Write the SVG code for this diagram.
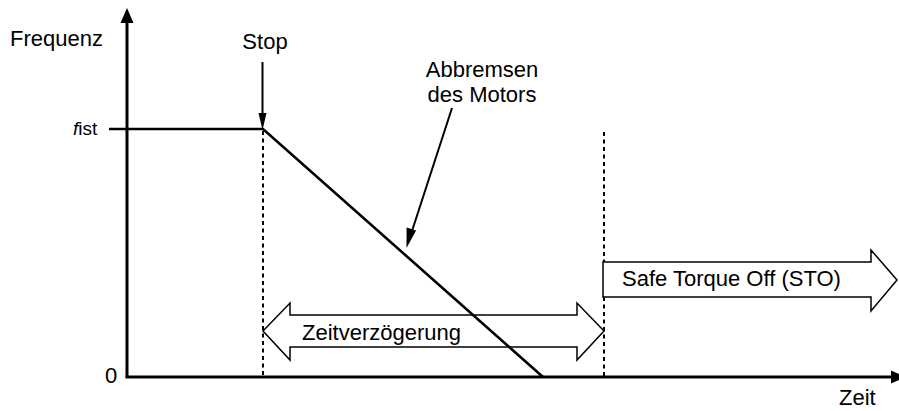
<svg xmlns="http://www.w3.org/2000/svg" width="899" height="411" viewBox="0 0 899 411">
<style>
text{font-family:"Liberation Sans",Arial,sans-serif;font-size:22px;fill:#000}
.ax{stroke:#000;stroke-width:3;fill:none}
.curve{stroke:#000;stroke-width:2.6;fill:none}
.dash{stroke:#000;stroke-width:2;stroke-dasharray:4 3.5;fill:none}
.ptr{stroke:#000;stroke-width:2;fill:none}
.big{stroke:#000;stroke-width:1.5;fill:#fff}
</style>
<rect width="899" height="411" fill="#fff"/>
<g id="axes">
<line class="ax" x1="127" y1="20" x2="127" y2="377"/>
<polygon points="127,8 120.5,23 133.5,23" fill="#000"/>
<line class="ax" x1="125.5" y1="377" x2="893" y2="377"/>
<polygon points="906,377 891,370.5 891,383.5" fill="#000"/>
<text id="y-label" x="10" y="46">Frequenz</text>
<text id="x-label" x="839" y="405">Zeit</text>
<text id="zero" x="105" y="383">0</text>
<text id="fist" x="73" y="135" style="font-size:19px"><tspan font-style="italic">f</tspan>ist</text>
</g>
<g id="guides">
<line class="dash" x1="263" y1="131" x2="263" y2="377"/>
<line class="dash" x1="604" y1="132" x2="604" y2="377"/>
</g>
<g id="zeitverzoegerung">
<polygon class="big" points="263,331 290,303 290,315 577,315 577,303 604,331 577,360 577,347 290,347 290,360"/>
<text x="302" y="340">Zeitverzögerung</text>
</g>
<g id="sto">
<polygon class="big" points="603,262 871,262 871,250 897,280 871,311 871,297 603,297"/>
<text x="622" y="286">Safe Torque Off (STO)</text>
</g>
<g id="frequency-curve">
<polyline class="curve" points="109,129 263,129 543,377"/>
</g>
<g id="stop">
<text x="265" y="49" text-anchor="middle">Stop</text>
</g>
<g id="abbremsen">
<text x="482" y="77" text-anchor="middle">Abbremsen</text>
<text x="482" y="102" text-anchor="middle">des Motors</text>
</g>
<g id="connectors">
<line class="ptr" x1="262.5" y1="62" x2="262.5" y2="116"/>
<polygon points="262.5,130 258.5,113 266.5,113" fill="#000"/>
<line class="ptr" x1="452" y1="108" x2="412" y2="231"/>
<polygon points="406.5,248 406.6,227.5 416.1,230.6" fill="#000"/>
</g>
</svg>
